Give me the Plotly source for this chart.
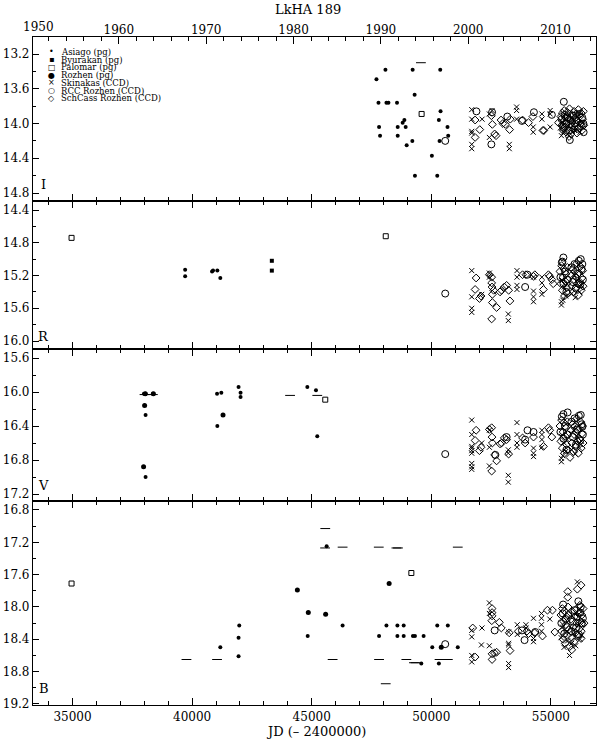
import plotly.graph_objects as go

# ---------------- data (JD-2400000, magnitude) ----------------
I_ASIAGO = [(47708,13.49),(48083,13.38),(49221,13.38),(50375,13.38),(47792,13.76),(48125,13.76),
            (48208,13.76),(48567,13.76),(49304,13.67),(50388,13.86),(48875,13.96),(50317,13.96),
            (47817,14.04),(48596,14.04),(48804,13.99),(48929,14.04),(50679,14.04),(47858,14.14),
            (48596,14.14),(49208,14.20),(50346,14.20),(50708,14.14),(48971,14.25),(50025,14.37),
            (49317,14.60),(50250,14.60)]
I_PALOMAR = [(49596,13.89)]
I_LIMIT = [(49567,13.30)]
I_RCC = [(50583,14.20),(51888,13.86),(52542,13.87),(52513,14.24),(53179,13.92),(53792,13.97),
         (54292,13.87),(55042,13.90),(55542,13.75),(55792,14.19),(56358,14.00),
         (55450,13.95),(55520,14.05),(55580,13.90),(55650,14.00),(55700,13.93),(55760,14.08),
         (55820,13.96),(55880,14.04),(55950,13.91),(56010,14.00),(56070,13.96),(56130,14.06),
         (56190,13.89),(56250,14.03),(56310,13.93),(56370,14.10)]
I_SKINAKAS = [(51692,13.84),(51692,13.95),(51692,14.09),(51692,14.11),(51692,14.24),(51692,14.29),
              (52125,13.95),(52429,13.89),(52429,14.16),(52542,13.85),(53263,14.24),(53263,14.29),
              (53567,13.81),(53567,13.85),(53567,13.95),(54263,14.04),(54263,14.10),(54625,13.89),
              (54625,13.95),(54971,13.85),(54971,13.89),(54971,14.04),(55442,14.14),(55763,14.14),
              (55400,14.05),(55470,13.98),(55550,14.10),(55620,13.90),(55700,14.02),(55850,13.93),
              (55990,14.08),(56100,13.92),(56220,14.10),(56340,13.99)]
I_SCHCASS = [(51833,13.96),(51833,14.16),(52028,14.07),(52513,13.91),(52554,14.01),(52650,14.12),
             (52708,14.14),(52917,13.96),(52992,14.00),(53096,14.01),(53304,13.95),(53275,14.07),
             (53817,13.96),(54067,13.99),(54250,13.92),(54667,14.08),(54708,14.08),(55317,13.99),
             (55763,14.15),
             (55420,13.92),(55460,14.02),(55480,13.88),(55510,14.08),(55530,13.97),(55560,13.85),
             (55590,14.04),(55610,13.93),(55640,14.10),(55660,13.99),(55690,13.87),(55720,14.06),
             (55750,13.95),(55780,13.83),(55810,14.01),(55840,14.12),(55870,13.90),(55900,13.98),
             (55940,14.07),(55970,13.86),(56000,13.94),(56030,14.03),(56060,13.89),(56090,14.11),
             (56120,13.97),(56150,13.84),(56180,14.05),(56210,13.92),(56240,14.00),(56270,13.88),
             (56300,14.08),(56330,13.95),(56360,13.86),(56380,14.02)]

R_ASIAGO = [(39708,15.13),(39708,15.21),(40833,15.15),(40875,15.14),(41054,15.14),(41179,15.23)]
R_BYURAKAN = [(43333,15.02),(43333,15.14)]
R_PALOMAR = [(34958,14.74),(48096,14.72)]
R_RCC = [(50583,15.42),(53925,15.34),(54025,15.19),(55525,14.98),(55483,15.03),(56250,15.00),
         (56317,15.06),
         (55400,15.22),(55460,15.04),(55530,15.30),(55590,15.15),(55650,15.40),(55700,15.25),
         (55860,15.10),(55920,15.28),(55990,15.06),(56050,15.35),(56110,15.18),(56170,15.02),
         (56230,15.31),(56290,15.12),(56340,15.25)]
R_SKINAKAS = [(51692,15.14),(51692,15.46),(51692,15.60),(51692,15.65),(52108,15.43),(52429,15.17),
              (52429,15.22),(53221,15.67),(53221,15.75),(53583,15.14),(53583,15.22),(53583,15.32),
              (53583,15.37),(54275,15.22),(54275,15.39),(54275,15.46),(54275,15.52),(54625,15.22),
              (54625,15.29),(54625,15.43),(55442,15.52),(55442,15.56),
              (55440,15.26),(55500,15.50),(55560,15.34),(55620,15.45),(55680,15.30),(55870,15.42),
              (55950,15.19),(56020,15.47),(56100,15.26),(56200,15.40),(56280,15.32)]
R_SCHCASS = [(51875,15.23),(51833,15.37),(52013,15.48),(52080,15.45),(52429,15.19),(52525,15.22),
             (52525,15.29),(52540,15.34),(52555,15.43),(52555,15.53),(52525,15.73),(52608,15.38),
             (52733,15.59),(52875,15.40),(52940,15.38),(53054,15.34),(53150,15.32),(53235,15.38),
             (53290,15.51),(53817,15.19),(53958,15.19),(54275,15.21),(54330,15.19),(54690,15.37),
             (54900,15.19),(54955,15.21),(55042,15.25),(55100,15.30),
             (55380,15.15),(55420,15.30),(55450,15.08),(55480,15.38),(55510,15.22),(55540,15.12),
             (55570,15.45),(55600,15.27),(55630,15.18),(55660,15.35),(55690,15.10),(55710,15.42),
             (55850,15.20),(55880,15.33),(55910,15.12),(55940,15.40),(55970,15.25),(56000,15.15),
             (56030,15.36),(56060,15.22),(56090,15.05),(56120,15.30),(56150,15.44),(56180,15.17),
             (56210,15.28),(56240,15.09),(56270,15.38),(56300,15.23),(56330,15.14),(56350,15.33)]

V_ASIAGO = [(37986,16.02),(38030,16.02),(38054,16.02),(38358,16.02),(38054,16.27),(38054,17.00),
            (41042,16.02),(41221,16.01),(41054,16.40),(41942,15.94),(42025,16.01),(42025,16.06),
            (44817,15.94),(45179,15.98),(45233,16.52)]
V_ROZHEN = [(38013,16.16),(37970,16.88),(41292,16.27),(38380,16.02),(38040,16.02)]
V_PALOMAR = [(45567,16.09)]
V_LIMIT = [(38010,16.03),(38358,16.03),(44096,16.04),(45233,16.04)]
V_RCC = [(50583,16.73),(52680,16.74),(54025,16.45),(54275,16.47),(53925,16.56),(53150,16.53),
         (55525,16.26),(55700,16.24),(56250,16.27),(56317,16.41),
         (55400,16.47),(55460,16.29),(55530,16.55),(55590,16.40),(55650,16.68),(55700,16.50),
         (55860,16.35),(55920,16.53),(55990,16.31),(56050,16.62),(56110,16.44),(56170,16.28),
         (56230,16.57),(56290,16.38),(56340,16.50)]
V_SKINAKAS = [(51692,16.33),(51692,16.50),(51692,16.64),(51692,16.66),(51692,16.69),(51692,16.72),
              (51692,16.84),(51692,16.88),(51692,16.91),(52108,16.60),(52429,16.45),(52429,16.65),
              (52429,16.87),(53221,16.68),(53221,16.72),(53221,16.98),(53221,17.06),(53583,16.36),
              (53583,16.50),(53583,16.60),(53583,16.65),(54275,16.66),(54275,16.72),(54275,16.76),
              (54625,16.45),(54625,16.50),(54625,16.56),(54625,16.65),(55442,16.78),(55442,16.82),
              (55440,16.52),(55500,16.75),(55560,16.60),(55620,16.70),(55680,16.56),(55870,16.68),
              (55950,16.45),(56020,16.73),(56100,16.52),(56200,16.66),(56280,16.58)]
V_SCHCASS = [(51875,16.45),(51833,16.57),(52013,16.69),(52080,16.65),(52429,16.44),(52525,16.42),
             (52540,16.53),(52555,16.60),(52525,16.93),(52650,16.74),(52733,16.81),(52875,16.61),
             (52940,16.60),(53054,16.54),(53150,16.56),(53235,16.73),(53817,16.54),(53925,16.60),
             (54275,16.53),(54690,16.64),(54900,16.42),(54955,16.45),(55042,16.53),(55800,16.77),
             (55380,16.40),(55420,16.58),(55450,16.33),(55480,16.66),(55510,16.47),(55540,16.36),
             (55570,16.72),(55600,16.52),(55630,16.42),(55660,16.62),(55690,16.35),(55710,16.68),
             (55850,16.45),(55880,16.60),(55910,16.38),(55940,16.70),(55970,16.50),(56000,16.40),
             (56030,16.64),(56060,16.47),(56090,16.31),(56120,16.58),(56150,16.72),(56180,16.43),
             (56210,16.55),(56240,16.35),(56270,16.66),(56300,16.49),(56330,16.40),(56350,16.60)]

B_ASIAGO = [(41179,18.50),(41971,18.23),(41942,18.38),(41942,18.61),(44833,18.36),(45625,17.25),
            (46292,18.23),(47817,18.36),(48125,18.23),(48583,18.23),(48583,18.36),(48846,18.23),
            (48846,18.36),(49233,18.36),(49317,18.36),(49679,18.36),(50042,18.50),(50250,18.23),
            (50692,18.23),(51108,18.50),(49583,18.70),(50317,18.70)]
B_ROZHEN = [(44400,17.79),(44858,18.07),(45583,18.09),(48238,17.71),(50417,18.50)]
B_PALOMAR = [(34958,17.71),(49167,17.58)]
B_LIMIT = [(39763,18.65),(41042,18.65),(45567,17.03),(45560,17.27),(46292,17.26),(47804,17.26),
           (48542,17.27),(48608,17.27),(51108,17.26),(45875,18.65),(47817,18.65),(48958,18.65),
           (49275,18.69),(49346,18.69),(50346,18.65),(50692,18.65),(48096,18.95)]
B_RCC = [(50583,18.46),(52650,18.29),(53792,18.29),(53900,18.41),(54346,18.31),(55513,17.97),
         (56150,17.93),(56250,18.00),
         (55440,18.20),(55500,18.08),(55560,18.33),(55620,18.15),(55680,18.25),(55740,18.10),
         (55860,18.30),(55920,18.18),(55990,18.04),(56050,18.26),(56110,18.12),(56170,18.34),
         (56230,18.07),(56290,18.20),(56340,18.14)]
B_SKINAKAS = [(51692,18.29),(51692,18.37),(51692,18.60),(51692,18.68),(52120,18.26),(52096,18.47),
              (52429,17.95),(52429,18.08),(52429,18.48),(53233,18.31),(53233,18.45),(53233,18.47),
              (53233,18.70),(53233,18.75),(53596,18.22),(53596,18.34),(53958,18.22),(53958,18.26),
              (54275,18.14),(54275,18.39),(54275,18.43),(54608,18.08),(54608,18.14),(54608,18.22),
              (54608,18.30),(54958,18.15),(56108,17.69),
              (55430,18.38),(55490,18.25),(55550,18.50),(55610,18.32),(55700,18.42),(55780,18.60),
              (55870,18.45),(55960,18.33),(56040,18.48),(56130,18.22),(56220,18.40),(56300,18.35)]
B_SCHCASS = [(51733,18.26),(51833,18.62),(52542,18.02),(52542,18.07),(52542,18.11),(52530,18.17),
             (52542,18.58),(52542,18.65),(52640,18.57),(52733,18.56),(52846,18.19),(52929,18.26),
             (53260,18.32),(53292,18.54),(53640,18.30),(54000,18.30),(54067,18.33),(54320,18.32),
             (54650,18.36),(54858,18.04),(55067,18.04),(55167,18.31),(55708,17.81),(55708,17.88),
             (55790,18.49),(55875,18.53),(56108,17.78),(56263,17.73),(56263,18.39),(56388,18.20),
             (55420,18.10),(55450,18.30),(55480,18.02),(55510,18.40),(55540,18.18),(55570,18.05),
             (55600,18.45),(55630,18.22),(55660,18.12),(55690,18.35),(55720,18.00),(55750,18.28),
             (55850,18.15),(55880,18.38),(55910,18.06),(55940,18.25),(55970,18.43),(56000,18.12),
             (56030,18.32),(56060,18.03),(56090,18.20),(56120,18.36),(56150,18.08),(56180,18.27),
             (56210,17.98),(56240,18.18),(56270,18.30),(56300,18.10),(56330,18.22),(56350,18.02)]

LEGEND_NAMES = ["Asiago (pg)", "Byurakan (pg)", "Palomar (pg)", "Rozhen (pg)",
                "Skinakas (CCD)", "RCC Rozhen (CCD)", "SchCass Rozhen (CCD)"]
LEGEND_GLYPHS = ["\u2022", "\u25aa", "\u25a1", "\u25cf", "\u00d7", "\u25cb", "\u25c7"]
BAND_LABELS = ["I", "R", "V", "B"]
YEAR_TICKS = [1960, 1970, 1980, 1990, 2000, 2010]

# ---------------- layout geometry ----------------
W, H = 600, 740
L, R, T, Bm = 32, 3, 37, 35
PW, PH = W - L - R, H - T - Bm
JD0, JD1 = 33346, 56888
YR0 = 1950 + (JD0 - 33282.5) / 365.25
YR1 = 1950 + (JD1 - 33282.5) / 365.25
FONT = "DejaVu Serif"

def px(x):
    return (x - L) / PW

def py(y):
    return (H - Bm - y) / PH

# panel: (axis suffix, top px, bottom px, top mag, bottom mag)
PANELS = {
    "I": ("4", 37, 201, 13.004, 14.892),
    "R": ("3", 201, 349, 14.290, 16.097),
    "V": ("2", 349, 501, 15.494, 17.282),
    "B": ("", 501, 705, 16.689, 19.213),
}

STY = {
    "asiago": dict(symbol="circle", size=4, color="black", line=dict(width=0)),
    "byurakan": dict(symbol="square", size=4, color="black", line=dict(width=0)),
    "palomar": dict(symbol="square-open", size=5, color="black", line=dict(width=1, color="black")),
    "rozhen": dict(symbol="circle", size=5, color="black", line=dict(width=0)),
    "skinakas": dict(symbol="x-thin-open", size=5, color="black", line=dict(width=1, color="black")),
    "rcc": dict(symbol="circle-open", size=7, color="black", line=dict(width=1, color="black")),
    "schcass": dict(symbol="diamond-open", size=6, color="black", line=dict(width=1, color="black")),
    "limit": dict(symbol="line-ew-open", size=7, color="black", line=dict(width=1, color="black")),
}

DATA = [
    ("I", "schcass", I_SCHCASS), ("I", "rcc", I_RCC), ("I", "skinakas", I_SKINAKAS),
    ("I", "asiago", I_ASIAGO), ("I", "palomar", I_PALOMAR), ("I", "limit", I_LIMIT),
    ("R", "schcass", R_SCHCASS), ("R", "rcc", R_RCC), ("R", "skinakas", R_SKINAKAS),
    ("R", "asiago", R_ASIAGO), ("R", "byurakan", R_BYURAKAN), ("R", "palomar", R_PALOMAR),
    ("V", "schcass", V_SCHCASS), ("V", "rcc", V_RCC), ("V", "skinakas", V_SKINAKAS),
    ("V", "asiago", V_ASIAGO), ("V", "rozhen", V_ROZHEN), ("V", "palomar", V_PALOMAR),
    ("V", "limit", V_LIMIT),
    ("B", "schcass", B_SCHCASS), ("B", "rcc", B_RCC), ("B", "skinakas", B_SKINAKAS),
    ("B", "asiago", B_ASIAGO), ("B", "rozhen", B_ROZHEN), ("B", "palomar", B_PALOMAR),
    ("B", "limit", B_LIMIT),
]

fig = go.Figure()
for band, src, pts in DATA:
    suf = PANELS[band][0]
    fig.add_trace(go.Scatter(
        x=[p[0] for p in pts], y=[p[1] for p in pts], mode="markers",
        marker=STY[src], xaxis="x" + suf, yaxis="y" + suf,
        showlegend=False, hoverinfo="skip"))

# invisible anchor trace for the year axis
fig.add_trace(go.Scatter(x=[YR0], y=[14.0], xaxis="x5", yaxis="y4", mode="markers",
                         marker=dict(opacity=0), showlegend=False, hoverinfo="skip"))

tickfont = dict(family=FONT, size=12, color="black")
layout = dict(width=W, height=H, margin=dict(l=L, r=R, t=T, b=Bm),
              paper_bgcolor="white", plot_bgcolor="white", showlegend=False)

for band, (suf, ytop, ybot, mtop, mbot) in PANELS.items():
    n = suf if suf else ""
    xa = dict(range=[JD0, JD1], domain=[0, 1], anchor="y" + n,
              showline=True, linecolor="black", linewidth=1.2,
              mirror=(True if band == "I" else "ticks"),
              ticks="inside", ticklen=7, tickwidth=1, tickcolor="black",
              tick0=0, dtick=5000, showticklabels=(band == "B"),
              minor=dict(dtick=1000, tick0=0, ticks="inside", ticklen=4, tickcolor="black"),
              showgrid=False, zeroline=False, tickfont=tickfont, tickformat="d")
    ya = dict(range=[mbot, mtop], domain=[py(ybot), py(ytop)], anchor="x" + n,
              showline=True, linecolor="black", linewidth=1.2, mirror="ticks",
              ticks="inside", ticklen=6, tickwidth=1, tickcolor="black",
              tick0=0, dtick=0.4, tickformat=".1f",
              minor=dict(dtick=0.2, tick0=0, ticks="inside", ticklen=3, tickcolor="black"),
              showgrid=False, zeroline=False, tickfont=tickfont)
    layout["xaxis" + n] = xa
    layout["yaxis" + n] = ya

layout["xaxis5"] = dict(overlaying="x4", side="top", anchor="y4", range=[YR0, YR1],
                        tickvals=YEAR_TICKS, ticks="inside", ticklen=7, tickwidth=1,
                        tickcolor="black", showline=False, showgrid=False, zeroline=False,
                        minor=dict(dtick=2, tick0=1950, ticks="inside", ticklen=4, tickcolor="black"),
                        tickfont=tickfont)

def ann(text, x, y, size, family=FONT, xanchor="center"):
    return dict(text=text, x=px(x), y=py(y), xref="paper", yref="paper",
                xanchor=xanchor, yanchor="middle", showarrow=False,
                font=dict(family=family, size=size, color="black"))

annotations = []
annotations.append(ann("LkHA 189", 308, 9, 13))
annotations.append(ann("1950", 38, 27, 12))
annotations.append(ann("JD (\u2013 2400000)", 316, 731, 13))
for lab, yc in zip(BAND_LABELS, [184, 336, 486, 688]):
    annotations.append(ann(lab, 43, yc, 13))
for i, (g, name) in enumerate(zip(LEGEND_GLYPHS, LEGEND_NAMES)):
    yc = 52 + i * 7.7
    annotations.append(ann(g, 50.7, yc, 8, family="DejaVu Sans"))
    annotations.append(ann(name, 58, yc, 8.5, xanchor="left"))
layout["annotations"] = annotations

fig.update_layout(**layout)
fig.write_html("out.html", config={"displayModeBar": False},
               post_script="document.body.style.margin='0';document.body.style.padding='0';")
